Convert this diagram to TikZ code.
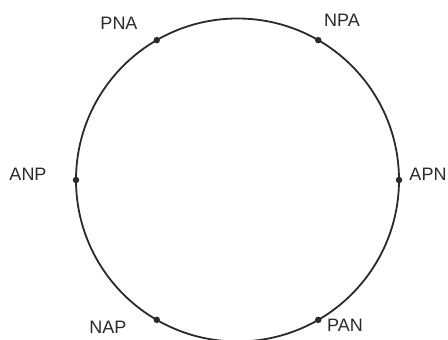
\documentclass[tikz,border=0pt]{standalone}
\usepackage{fontspec}
\setmainfont{Liberation Sans}
\usetikzlibrary{calc}
\definecolor{ink}{HTML}{2A2A2A}
\begin{document}
\begin{tikzpicture}[x=1pt,y=1pt,
  dot/.style={circle,fill=ink,inner sep=0pt,minimum size=6.5pt},
  lab/.style={font=\fontsize{18}{18}\selectfont,text=ink,inner sep=0pt}]
\useasboundingbox (0,0) rectangle (448,340);
\clip (0,0) rectangle (448,340);
\coordinate (c) at (237.5,160);
\draw[ink,line width=1.8pt] (c) circle[radius=161.5];
\node[dot] (pna) at ($(c)+(120:161.5)$) {};
\node[dot] (npa) at ($(c)+(60:161.5)$) {};
\node[dot] (anp) at ($(c)+(180:161.5)$) {};
\node[dot] (apn) at ($(c)+(0:161.5)$) {};
\node[dot] (nap) at ($(c)+(240:161.5)$) {};
\node[dot] (pan) at ($(c)+(300:161.5)$) {};
\node[lab] (lpna) at (119,317) {PNA};
\node[lab] (lnpa) at (342,320) {NPA};
\node[lab] (lanp) at (28,166) {ANP};
\node[lab] (lapn) at (428,166) {APN};
\node[lab] (lnap) at (108,13) {NAP};
\node[lab] (lpan) at (345,15) {PAN};
\end{tikzpicture}
\end{document}
